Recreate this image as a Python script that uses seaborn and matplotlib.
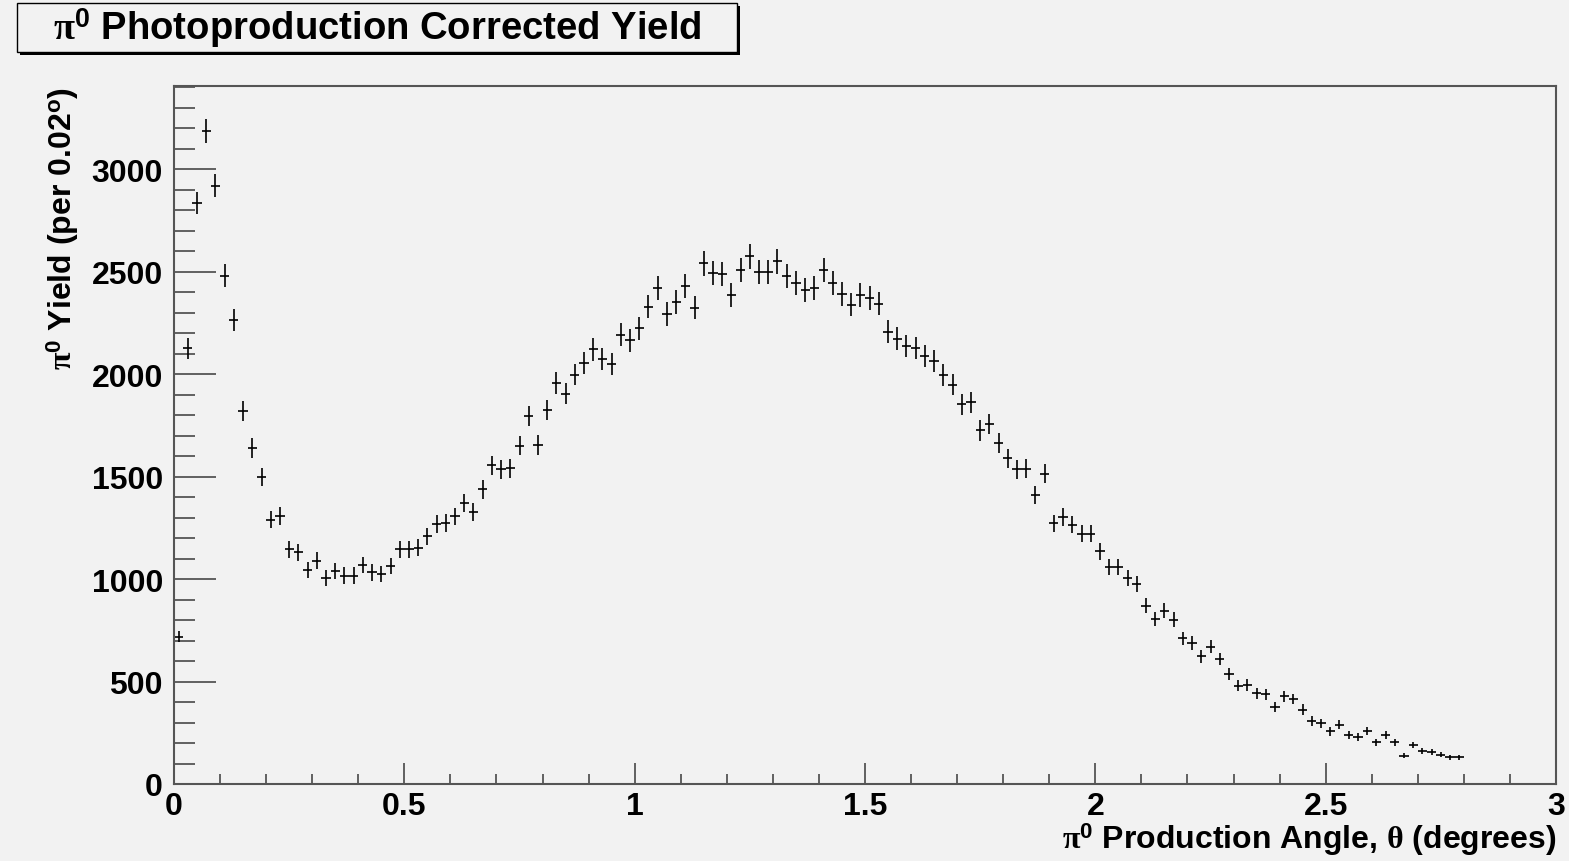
import numpy as np
import pandas as pd
import matplotlib
matplotlib.use("Agg")
import matplotlib.pyplot as plt
from matplotlib.patches import Rectangle
from matplotlib.ticker import MultipleLocator, FuncFormatter
import seaborn as sns

# histogram binning: 0.02 deg bins starting at 0
bin_width = 0.02
n_bins = 140

yields = [
    719, 2126, 2835, 3188, 2920, 2481, 2264, 1819, 1640, 1497,
    1290, 1309, 1145, 1131, 1044, 1090, 1005, 1038, 1017, 1017,
    1069, 1033, 1025, 1065, 1145, 1145, 1153, 1209, 1270, 1274,
    1306, 1371, 1326, 1438, 1555, 1536, 1541, 1651, 1794, 1654,
    1824, 1957, 1905, 1998, 2055, 2121, 2073, 2050, 2193, 2165,
    2224, 2330, 2422, 2294, 2352, 2429, 2325, 2541, 2495, 2489,
    2386, 2509, 2575, 2500, 2500, 2551, 2478, 2444, 2412, 2422,
    2509, 2444, 2391, 2339, 2387, 2370, 2344, 2207, 2173, 2138,
    2128, 2087, 2066, 1996, 1949, 1853, 1862, 1725, 1755, 1665,
    1590, 1536, 1539, 1409, 1514, 1272, 1303, 1266, 1222, 1222,
    1136, 1059, 1059, 1004, 976, 870, 805, 846, 802, 711,
    688, 623, 670, 610, 537, 480, 483, 443, 439, 377,
    428, 415, 363, 309, 296, 257, 289, 239, 228, 257,
    203, 241, 203, 138, 190, 160, 155, 143, 130, 130,
]

errors = [
    28, 50, 55, 59, 57, 55, 52, 49, 47, 45,
    43, 43, 41, 41, 40, 40, 40, 40, 40, 40,
    40, 40, 40, 40, 41, 41, 41, 42, 43, 43,
    43, 44, 44, 45, 46, 46, 46, 48, 49, 48,
    50, 52, 51, 53, 54, 55, 54, 54, 55, 55,
    56, 57, 58, 57, 57, 58, 57, 60, 59, 59,
    58, 59, 60, 59, 59, 60, 59, 58, 58, 58,
    59, 58, 58, 57, 58, 58, 57, 56, 55, 55,
    55, 54, 54, 53, 52, 51, 51, 49, 49, 48,
    47, 46, 46, 45, 46, 43, 43, 43, 42, 42,
    41, 40, 40, 39, 38, 37, 36, 36, 35, 33,
    33, 31, 32, 30, 29, 28, 28, 27, 27, 25,
    26, 26, 25, 24, 23, 21, 22, 20, 19, 20,
    17, 19, 17, 13, 16, 14, 14, 13, 12, 12,
]

title = r"$\mathrm{\pi}^{\mathbf{0}}$ Photoproduction Corrected Yield"
xlabel = r"$\mathrm{\pi}^{\mathbf{0}}$ Production Angle, $\mathrm{\theta}$ (degrees)"
ylabel = r"$\mathrm{\pi}^{\mathbf{0}}$ Yield (per 0.02$^{\mathbf{o}}$)"

BG = "#f2f2f2"
FRAME = "#555555"

sns.set_style("ticks", {"axes.facecolor": BG, "figure.facecolor": BG,
                        "axes.edgecolor": FRAME, "text.color": "black",
                        "axes.labelcolor": "black"})
plt.rcParams["font.family"] = ["Liberation Sans", "DejaVu Sans"]
plt.rcParams["font.weight"] = "bold"
plt.rcParams["text.color"] = "black"
plt.rcParams["axes.labelcolor"] = "black"
plt.rcParams["mathtext.fontset"] = "custom"
plt.rcParams["mathtext.rm"] = "Liberation Serif"
plt.rcParams["mathtext.it"] = "Liberation Serif:italic"
plt.rcParams["mathtext.bf"] = "Liberation Sans:bold"

df = pd.DataFrame({
    "angle": (np.arange(n_bins) + 0.5) * bin_width,
    "yield": yields,
    "err": errors,
})

W, H = 1569, 862
fig = plt.figure(figsize=(W / 100, H / 100), dpi=100)
ax = fig.add_axes([174 / W, (H - 785) / H, 1382 / W, 698 / H])

ax.errorbar(df["angle"], df["yield"], xerr=bin_width / 2, yerr=df["err"],
            fmt="none", ecolor="black", elinewidth=1.2, capsize=0)

ax.set_xlim(0, 3)
ax.set_ylim(0, 3406)
ax.xaxis.set_major_locator(MultipleLocator(0.5))
ax.xaxis.set_minor_locator(MultipleLocator(0.1))
ax.yaxis.set_major_locator(MultipleLocator(500))
ax.yaxis.set_minor_locator(MultipleLocator(100))
ax.xaxis.set_major_formatter(FuncFormatter(lambda v, p: "%g" % v))

for s in ax.spines.values():
    s.set_linewidth(1.5)
    s.set_color(FRAME)

ax.tick_params(which="both", direction="in", colors=FRAME, labelcolor="black",
               top=False, right=False, width=1.3)
ax.tick_params(axis="y", which="major", length=30, labelsize=23, pad=8)
ax.tick_params(axis="y", which="minor", length=15)
ax.tick_params(axis="x", which="major", length=15, labelsize=23, pad=5)
ax.tick_params(axis="x", which="minor", length=7.5)
for lab in ax.get_xticklabels() + ax.get_yticklabels():
    lab.set_fontweight("bold")

ax.set_xlabel(xlabel, fontsize=23, fontweight="bold", loc="right", color="black")
ax.xaxis.set_label_coords(1.0, -0.052)
ax.set_ylabel(ylabel, fontsize=23, fontweight="bold", loc="top", color="black")
ax.yaxis.set_label_coords(-0.067, 1.0)

# title pave with shadow
x0, y0, bw, bh = 17 / W, (H - 53) / H, 720 / W, 49 / H
fig.add_artist(Rectangle((x0 + 3 / W, y0 - 3 / H), bw, bh, transform=fig.transFigure,
                         facecolor="black", edgecolor="black", lw=0))
fig.add_artist(Rectangle((x0, y0), bw, bh, transform=fig.transFigure,
                         facecolor=BG, edgecolor="black", lw=1.0))
fig.text(x0 + bw / 2, y0 + bh / 2, title, ha="center", va="center",
         fontsize=27.5, fontweight="bold", color="black")

fig.savefig("out.png", dpi=100, facecolor=BG)
